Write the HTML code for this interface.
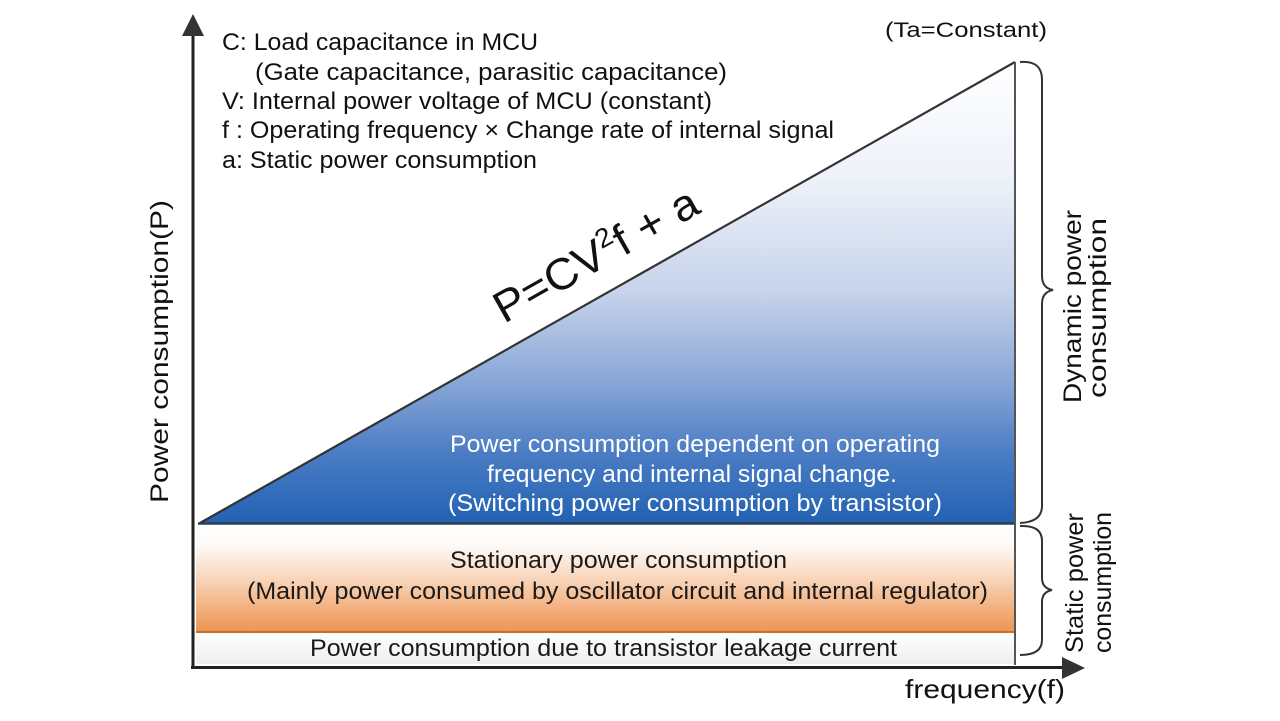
<!DOCTYPE html>
<html>
<head>
<meta charset="utf-8">
<style>
html,body{margin:0;padding:0;background:#fff;}
body{width:1280px;height:721px;overflow:hidden;}
svg{display:block;}
text{font-family:"Liberation Sans",Arial,sans-serif;}
</style>
</head>
<body>
<svg width="1280" height="721" viewBox="0 0 1280 721" xmlns="http://www.w3.org/2000/svg">
<defs>
<linearGradient id="gb" x1="0" y1="62" x2="0" y2="523" gradientUnits="userSpaceOnUse">
<stop offset="0" stop-color="#ffffff"/>
<stop offset="0.25" stop-color="#eef2f9"/>
<stop offset="0.5" stop-color="#c6d3eb"/>
<stop offset="0.7" stop-color="#86a5d6"/>
<stop offset="0.85" stop-color="#4a7cc4"/>
<stop offset="1" stop-color="#2262b2"/>
</linearGradient>
<linearGradient id="go" x1="0" y1="524" x2="0" y2="632" gradientUnits="userSpaceOnUse">
<stop offset="0" stop-color="#ffffff"/>
<stop offset="0.2" stop-color="#fefaf7"/>
<stop offset="0.5" stop-color="#f8d6bc"/>
<stop offset="0.8" stop-color="#f2ae7a"/>
<stop offset="1" stop-color="#ec9550"/>
</linearGradient>
<linearGradient id="gw" x1="0" y1="633" x2="0" y2="664" gradientUnits="userSpaceOnUse">
<stop offset="0" stop-color="#ffffff"/>
<stop offset="1" stop-color="#eeeeee"/>
</linearGradient>
</defs>

<!-- bands -->
<rect x="196" y="524" width="819" height="108" fill="url(#go)"/>
<line x1="196" y1="632" x2="1015" y2="632" stroke="#c8702e" stroke-width="2"/>
<rect x="196" y="633" width="819" height="31" fill="url(#gw)"/>

<!-- triangle -->
<polygon points="200,523 1015,62 1015,523" fill="url(#gb)"/>
<line x1="200" y1="523" x2="1015" y2="62" stroke="#333" stroke-width="2.2"/>
<line x1="198" y1="523.5" x2="1015" y2="523.5" stroke="#2c3e55" stroke-width="2.5"/>
<line x1="1015" y1="62" x2="1015" y2="665" stroke="#555" stroke-width="2"/>

<!-- axes -->
<line x1="193" y1="32" x2="193" y2="669" stroke="#222" stroke-width="3"/>
<polygon points="193,14 182,36 204,36" fill="#333"/>
<line x1="191" y1="667.5" x2="1066" y2="667.5" stroke="#222" stroke-width="3"/>
<polygon points="1085,668 1062,657 1062,679" fill="#333"/>

<!-- braces -->
<path d="M1020,62 Q1042,60 1042,80 L1042,276 Q1042,288 1053,290 Q1042,292 1042,304 L1042,506 Q1042,522 1020,523" fill="none" stroke="#333" stroke-width="2"/>
<path d="M1020,526 Q1042,525 1042,541 L1042,578 Q1042,588 1052,590 Q1042,592 1042,602 L1042,640 Q1042,655 1020,655" fill="none" stroke="#333" stroke-width="2"/>

<!-- legend text top-left -->
<g font-size="24" fill="#111">
<text x="222" y="50" textLength="316" lengthAdjust="spacingAndGlyphs">C: Load capacitance in MCU</text>
<text x="255" y="80" textLength="472" lengthAdjust="spacingAndGlyphs">(Gate capacitance, parasitic capacitance)</text>
<text x="222" y="109" textLength="490" lengthAdjust="spacingAndGlyphs">V: Internal power voltage of MCU (constant)</text>
<text x="222" y="138" textLength="612" lengthAdjust="spacingAndGlyphs">f : Operating frequency × Change rate of internal signal</text>
<text x="222" y="168" textLength="315" lengthAdjust="spacingAndGlyphs">a: Static power consumption</text>
</g>

<text x="885" y="37" font-size="21" fill="#111" textLength="162" lengthAdjust="spacingAndGlyphs">(Ta=Constant)</text>

<!-- formula -->
<text transform="translate(504,324) rotate(-29.5)" font-size="44" fill="#111" textLength="228" lengthAdjust="spacingAndGlyphs">P=CV<tspan font-size="27" dy="-17">2</tspan><tspan dy="17">f + a</tspan></text>

<!-- blue region text -->
<g font-size="24" fill="#ffffff">
<text x="450" y="452" textLength="490" lengthAdjust="spacingAndGlyphs">Power consumption dependent on operating</text>
<text x="487" y="482" textLength="410" lengthAdjust="spacingAndGlyphs">frequency and internal signal change.</text>
<text x="448" y="511" textLength="494" lengthAdjust="spacingAndGlyphs">(Switching power consumption by transistor)</text>
</g>

<!-- orange band text -->
<g font-size="24" fill="#1a1a1a">
<text x="450" y="568" textLength="337" lengthAdjust="spacingAndGlyphs">Stationary power consumption</text>
<text x="247" y="599" textLength="741" lengthAdjust="spacingAndGlyphs">(Mainly power consumed by oscillator circuit and internal regulator)</text>
<text x="310" y="656" textLength="587" lengthAdjust="spacingAndGlyphs">Power consumption due to transistor leakage current</text>
</g>

<!-- axis labels -->
<text transform="translate(168,503) rotate(-90)" font-size="25" fill="#111" textLength="303" lengthAdjust="spacingAndGlyphs">Power consumption(P)</text>
<text x="905" y="698" font-size="26" fill="#111" textLength="160" lengthAdjust="spacingAndGlyphs">frequency(f)</text>

<!-- right labels -->
<g font-size="25" fill="#111">
<text transform="translate(1081,403) rotate(-90)" textLength="193" lengthAdjust="spacingAndGlyphs">Dynamic power</text>
<text transform="translate(1106,398) rotate(-90)" textLength="180" lengthAdjust="spacingAndGlyphs">consumption</text>
<text transform="translate(1083,653) rotate(-90)" textLength="140" lengthAdjust="spacingAndGlyphs">Static power</text>
<text transform="translate(1111,653) rotate(-90)" textLength="141" lengthAdjust="spacingAndGlyphs">consumption</text>
</g>
</svg>
</body>
</html>
